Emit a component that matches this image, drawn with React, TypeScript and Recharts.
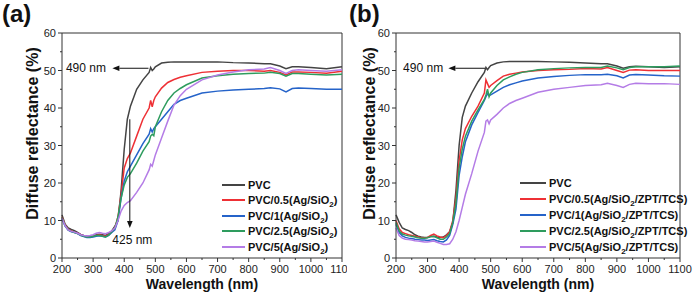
import { Legend, Line, LineChart, ReferenceDot, ReferenceLine, XAxis, YAxis } from "recharts";

// shared wavelength grid (nm) for every curve
const wavelengths = [
  200, 210, 220, 230, 240, 250, 260, 270, 280, 290, 300, 310, 320, 330, 340, 350, 360,
  370, 380, 390, 400, 410, 420, 440, 460, 480, 485, 490, 495, 500, 520, 540, 560, 580, 600,
  650, 700, 750, 800, 850, 870, 900, 920, 940, 960, 1000, 1050, 1100,
];

// (a) PVC + Ag/SiO2
const pvcA = [
  11.5, 9, 8, 7.6, 7.3, 6.8, 6.3, 6, 5.8, 5.8, 5.9, 6.2, 6.3, 6.2, 6, 6.5, 7.2,
  8.5, 10, 18, 29, 37, 40.5, 45, 47.5, 49.5, 50.8, 50, 50.4, 51, 52, 52.2, 52.3, 52.3, 52.3,
  52.3, 52.3, 52.1, 52, 51.8, 51.8, 51.2, 50.5, 51, 51, 50.8, 50.5, 51,
];
const agSiO2_05 = [
  11, 8.8, 7.6, 7.2, 6.9, 6.6, 6.2, 5.9, 5.7, 5.7, 5.8, 6, 6.1, 6, 5.8, 6.2, 7,
  8, 11, 17, 24, 26.5, 28, 32.5, 37, 40, 42, 40.3, 42, 43, 45.3, 46.8, 47.6, 48.2, 48.6,
  49.5, 49.8, 50, 50, 49.8, 50, 49.5, 48.8, 49.6, 49.6, 49.5, 49.3, 49.8,
];
const agSiO2_1 = [
  10.5, 8.5, 7.4, 7, 6.8, 6.5, 6, 5.7, 5.5, 5.5, 5.6, 5.8, 5.9, 5.8, 5.6, 6, 6.8,
  7.5, 10, 16, 20.5, 23, 24.5, 27.5, 30.5, 33, 34.5, 33.6, 34.5, 35, 37, 39, 41, 42, 42.6,
  44, 44.5, 44.8, 45, 45.2, 45.4, 45.1, 44.3, 45.2, 45.3, 45.2, 45, 45,
];
const agSiO2_25 = [
  10.8, 8.6, 7.5, 7.1, 6.8, 6.5, 6.1, 5.8, 5.6, 5.6, 5.8, 6, 6, 5.8, 5.6, 6.1, 7,
  8, 11, 16, 19.5, 21.5, 22.5, 25.3, 28.5, 31, 32.5, 33, 32.6, 35, 39, 42, 44, 45.2, 46.2,
  48, 48.6, 49, 49.2, 49.3, 49.5, 49.2, 48.5, 49.2, 49.2, 49, 48.8, 49,
];
const agSiO2_5 = [
  10.6, 8.6, 7.5, 7.1, 6.9, 6.6, 6.2, 6, 5.9, 6, 6.2, 6.6, 6.8, 6.6, 6.5, 6.8, 7.2,
  8, 10, 12.5, 14, 14.8, 15.3, 17.5, 20, 23.5, 25, 24.5, 26, 27.5, 32, 36.5, 40.8, 43.3, 45,
  47.5, 48.8, 49.6, 50.2, 50.4, 50.8, 50, 49.2, 50, 50.2, 50, 49.8, 50.2,
];

// (b) PVC + Ag/SiO2/ZPT/TCS
const pvcB = [
  11.5, 9.5, 8, 7.6, 7.3, 6.8, 6.2, 5.8, 5.6, 5.5, 5.5, 5.7, 5.8, 5.6, 5.5, 5.6, 6.2,
  7, 9.5, 18, 30, 37.5, 40.5, 44, 47, 49.5, 50.8, 50.2, 50.8, 51.3, 52, 52.3, 52.4, 52.4, 52.4,
  52.4, 52.3, 52.2, 52, 51.8, 51.8, 51.2, 50.6, 51, 51.1, 51, 50.8, 51,
];
const mix_05 = [
  10, 7.8, 6.8, 6.5, 6.2, 6, 5.8, 5.6, 5.4, 5.4, 5.5, 6, 6.4, 5.9, 5.6, 5.4, 6,
  7, 10, 16, 26, 31.5, 34.5, 37.8, 40.5, 44, 47.5, 46.5, 45.5, 46, 47.3, 48.5, 49, 49.3, 49.6,
  50, 50.2, 50.3, 50.5, 50.4, 50.8, 50, 49.5, 50.1, 50.2, 50, 50, 50,
];
const mix_1 = [
  9, 6.8, 5.9, 5.5, 5.3, 5.2, 5, 4.9, 4.8, 4.8, 4.7, 4.8, 4.9, 4.6, 4.4, 4.3, 4.8,
  6, 9, 13, 22, 27, 31, 35.5, 38.8, 42, 43, 43.8, 43.3, 43.5, 44.5, 45.5, 46.2, 46.7, 47.2,
  48, 48.4, 48.7, 48.9, 48.9, 49, 48.6, 48, 48.8, 48.9, 48.8, 48.6, 48.5,
];
const mix_25 = [
  9.5, 7.2, 6.4, 6.1, 5.9, 5.8, 5.6, 5.4, 5.3, 5.3, 5.4, 5.7, 5.8, 5.4, 5, 5, 5.6,
  6.5, 9.5, 14.5, 24, 29, 32.5, 36.5, 39.5, 42.3, 43.5, 45, 43, 44, 46, 47.5, 48.3, 49, 49.5,
  50.2, 50.5, 50.7, 50.8, 50.8, 51.2, 50.7, 50.2, 50.8, 51, 51, 51, 51.2,
];
const mix_5 = [
  8, 6, 5.3, 5, 4.9, 4.8, 4.6, 4.5, 4.4, 4.3, 4.3, 4.4, 4.5, 4.2, 3.9, 3.6, 3.6,
  3.8, 5, 7, 10, 13.5, 17, 22.5, 28.5, 33.5, 36.5, 36.8, 35.8, 36.8, 38.3, 40, 41.2, 42, 42.6,
  44.2, 45, 45.5, 46, 46.2, 46.6, 46, 45.5, 46.3, 46.6, 46.5, 46.5, 46.3,
];

const namesA = ["PVC", "PVC/0.5(Ag/SiO2)", "PVC/1(Ag/SiO2)", "PVC/2.5(Ag/SiO2)", "PVC/5(Ag/SiO2)"];
const namesB = [
  "PVC",
  "PVC/0.5(Ag/SiO2/ZPT/TCS)",
  "PVC/1(Ag/SiO2/ZPT/TCS)",
  "PVC/2.5(Ag/SiO2/ZPT/TCS)",
  "PVC/5(Ag/SiO2/ZPT/TCS)",
];
const colors = ["#444444", "#ee3035", "#2563c9", "#2e9c5e", "#b47ce6"];

const xTicks = [200, 250, 300, 350, 400, 450, 500, 550, 600, 650, 700, 750, 800, 850, 900, 950, 1000, 1050, 1100];
const yTicks = [0, 5, 10, 15, 20, 25, 30, 35, 40, 45, 50, 55, 60];

const font = '"Liberation Sans", Arial, Helvetica, sans-serif';
const ink = "#333";

function toRows(series: number[][]) {
  return wavelengths.map((w, i) => {
    const row: Record<string, number> = { w };
    series.forEach((s, k) => (row["s" + k] = s[i]));
    return row;
  });
}

// "SiO2" gets its subscript
function nameWithSub(name: string) {
  const parts = name.split("SiO2");
  return parts.map((p, i) => (
    <span key={i}>
      {p}
      {i < parts.length - 1 && (
        <>
          SiO<span style={{ fontSize: 8, position: "relative", top: 3 }}>2</span>
        </>
      )}
    </span>
  ));
}

function XTick({ x, y, payload }: any) {
  const major = payload.value % 100 === 0;
  return (
    <g>
      <line x1={x} x2={x} y1={y} y2={y + (major ? 4 : 2)} stroke={ink} />
      {major && (
        <text x={x} y={y + 15} textAnchor="middle" fontSize={11} fill="#222" fontFamily={font}>
          {payload.value}
        </text>
      )}
    </g>
  );
}

function YTick({ x, y, payload }: any) {
  const major = payload.value % 10 === 0;
  return (
    <g>
      <line x1={x - (major ? 4 : 2)} x2={x} y1={y} y2={y} stroke={ink} />
      {major && (
        <text x={x - 6} y={y + 4} textAnchor="end" fontSize={11} fill="#222" fontFamily={font}>
          {payload.value}
        </text>
      )}
    </g>
  );
}

function arrowShape(p: any) {
  const { x1, y1, x2, y2 } = p;
  const a = Math.atan2(y2 - y1, x2 - x1);
  const L = 7;
  const W = 2.8;
  const bx = x2 - L * Math.cos(a);
  const by = y2 - L * Math.sin(a);
  const px = -Math.sin(a) * W;
  const py = Math.cos(a) * W;
  return (
    <g>
      <line x1={x1} y1={y1} x2={bx} y2={by} stroke="#111" strokeWidth={1} />
      <polygon points={`${x2},${y2} ${bx + px},${by + py} ${bx - px},${by - py}`} fill="#111" />
    </g>
  );
}

function textShape(label: string) {
  return (p: any) => (
    <text x={p.cx} y={p.cy + 4} textAnchor="middle" fontSize={12} fill="#111" fontFamily={font}>
      {label}
    </text>
  );
}

function Panel({
  left,
  width,
  plotLeft,
  plotRight,
  tag,
  series,
  names,
  legendLeft,
  legendTop,
  legendRow,
  legendLine,
  yLabelX,
  children,
}: any) {
  const rows = toRows(series);
  return (
    <div style={{ position: "absolute", left, top: 0, width, height: 303 }}>
      <div
        style={{
          position: "absolute",
          left: 2,
          top: 0,
          fontFamily: font,
          fontWeight: "bold",
          fontSize: 24,
          lineHeight: "27px",
          color: "#111",
          zIndex: 2,
        }}
      >
        {tag}
      </div>
      <LineChart
        width={width}
        height={303}
        data={rows}
        margin={{ top: 33, right: width - plotRight, bottom: 0, left: 0 }}
        style={{ fontFamily: font }}
      >
        <XAxis
          dataKey="w"
          type="number"
          domain={[200, 1100]}
          ticks={xTicks}
          interval={0}
          height={45}
          tickSize={0}
          tickMargin={0}
          tickLine={false}
          axisLine={{ stroke: ink }}
          tick={<XTick />}
          label={{
            content: ({ viewBox }: any) => (
              <text
                x={viewBox.x + viewBox.width / 2}
                y={viewBox.y + 31}
                textAnchor="middle"
                fontSize={14}
                fontWeight="bold"
                fill="#111"
                fontFamily={font}
              >
                Wavelength (nm)
              </text>
            ),
          }}
        />
        <YAxis
          type="number"
          domain={[0, 60]}
          ticks={yTicks}
          interval={0}
          width={plotLeft}
          tickSize={0}
          tickMargin={0}
          tickLine={false}
          axisLine={{ stroke: ink }}
          tick={<YTick />}
          label={{
            content: ({ viewBox }: any) => {
              const cx = viewBox.x + yLabelX;
              const cy = viewBox.y + viewBox.height / 2 - 12;
              return (
                <text
                  x={cx}
                  y={cy}
                  transform={`rotate(-90 ${cx} ${cy})`}
                  textAnchor="middle"
                  fontSize={16}
                  fontWeight="bold"
                  fill="#111"
                  fontFamily={font}
                >
                  Diffuse reflectance (%)
                </text>
              );
            },
          }}
        />
        <ReferenceLine y={60} stroke={ink} />
        <ReferenceLine x={1100} stroke={ink} />
        {series.map((_: number[], k: number) => (
          <Line
            key={k}
            dataKey={"s" + k}
            name={names[k]}
            stroke={colors[k]}
            strokeWidth={1.5}
            dot={false}
            type="linear"
            isAnimationActive={false}
          />
        ))}
        {children}
        <Legend
          layout="vertical"
          align="center"
          verticalAlign="middle"
          wrapperStyle={{ left: legendLeft, top: legendTop, width: "auto" }}
          content={({ payload }: any) => (
            <div style={{ fontFamily: font, fontWeight: "bold", fontSize: 11, color: "#111" }}>
              {(payload || []).map((it: any, i: number) => (
                <div key={i} style={{ height: legendRow, display: "flex", alignItems: "center", whiteSpace: "nowrap" }}>
                  <span
                    style={{ display: "inline-block", width: legendLine, height: 2, background: it.color, marginRight: 3 }}
                  />
                  {nameWithSub(it.value)}
                </div>
              ))}
            </div>
          )}
        />
      </LineChart>
    </div>
  );
}

export default function App() {
  return (
    <div style={{ position: "absolute", left: 0, top: 0, width: 697, height: 303, background: "#fff", overflow: "hidden" }}>
      <Panel
        left={0}
        width={347}
        plotLeft={62}
        plotRight={342}
        tag="(a)"
        series={[pvcA, agSiO2_05, agSiO2_1, agSiO2_25, agSiO2_5]}
        names={namesA}
        legendLeft={222}
        legendTop={177}
        legendRow={15.5}
        legendLine={23}
        yLabelX={38}
      >
        <ReferenceLine segment={[{ x: 478, y: 50.6 }, { x: 362, y: 50.6 }]} shape={arrowShape} />
        <ReferenceDot x={277} y={50.6} r={0} shape={textShape("490 nm")} />
        <ReferenceLine segment={[{ x: 418, y: 37 }, { x: 418, y: 8 }]} shape={arrowShape} />
        <ReferenceDot x={426} y={4.8} r={0} shape={textShape("425 nm")} />
      </Panel>
      <Panel
        left={347}
        width={350}
        plotLeft={49}
        plotRight={333}
        tag="(b)"
        series={[pvcB, mix_05, mix_1, mix_25, mix_5]}
        names={namesB}
        legendLeft={173}
        legendTop={175}
        legendRow={16}
        legendLine={26}
        yLabelX={28}
      >
        <ReferenceLine segment={[{ x: 482, y: 50.6 }, { x: 366, y: 50.6 }]} shape={arrowShape} />
        <ReferenceDot x={286} y={50.6} r={0} shape={textShape("490 nm")} />
      </Panel>
    </div>
  );
}
